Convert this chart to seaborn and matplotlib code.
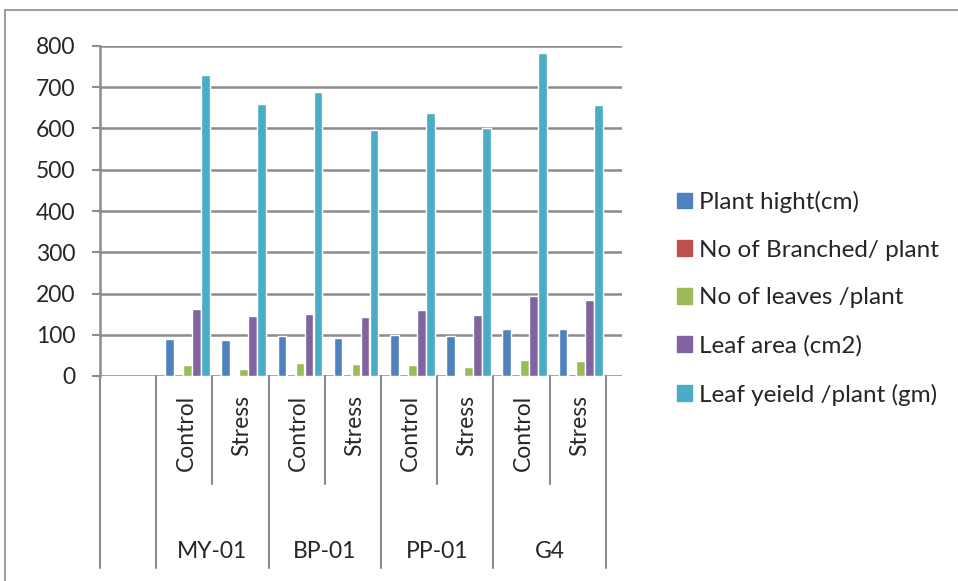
import pandas as pd
import matplotlib
matplotlib.use('Agg')
import matplotlib.pyplot as plt
import matplotlib.patches as mpatches
import matplotlib.transforms as mtransforms
import seaborn as sns

# data
varieties = ['MY-01', 'BP-01', 'PP-01', 'G4']
treatments = ['Control', 'Stress']
series = ['Plant hight(cm)', 'No of Branched/ plant', 'No of leaves /plant',
          'Leaf area (cm2)', 'Leaf yeield /plant (gm)']
plant_height = [90, 87, 96, 91, 100, 98, 115, 113]
branches = [4, 3, 5, 4, 4, 3, 6, 5]
leaves = [26, 16, 31, 29, 27, 22, 38, 36]
leaf_area = [163, 145, 151, 143, 159, 149, 195, 185]
leaf_yield = [729, 659, 689, 596, 638, 602, 783, 658]
colors = ['#4F81BD', '#C0504D', '#9BBB59', '#8064A2', '#4BACC6']
yticks = [0, 100, 200, 300, 400, 500, 600, 700, 800]

slots = [v + ' ' + t for v in varieties for t in treatments]
rows = []
for name, vals in zip(series, [plant_height, branches, leaves, leaf_area, leaf_yield]):
    for s, v in zip(slots, vals):
        rows.append({'slot': s, 'series': name, 'value': v})
df = pd.DataFrame(rows)
order = ['blank'] + slots

sns.set_style('white')
plt.rcParams['font.family'] = ['Lato', 'DejaVu Sans']
grid_c = '#8c8c8c'
fs = 16.5

fig = plt.figure(figsize=(9.58, 5.81), dpi=100)
ax = fig.add_axes([100 / 958, 1 - 376 / 581, 522 / 958, 330 / 581])

for y in yticks:
    ax.axhline(y, color=grid_c, lw=1.8, zorder=0)

sns.barplot(data=df, x='slot', y='value', hue='series', order=order,
            hue_order=series, palette=colors, width=0.8, gap=0.04,
            saturation=1, ax=ax, legend=False, zorder=3)
for p in ax.patches:
    p.set_x(p.get_x() + 0.057)

ax.set_xlim(-0.5, 8.79)
ax.set_ylim(0, 800)
ax.set_yticks(yticks)
ax.set_xticks([])
ax.set_xlabel('')
ax.set_ylabel('')
for side in ['top', 'right', 'bottom']:
    ax.spines[side].set_visible(False)
ax.spines['left'].set_color(grid_c)
ax.spines['left'].set_linewidth(1.8)
ax.tick_params(axis='y', length=5.8, width=1.5, color=grid_c, pad=12,
               labelsize=fs, left=True)

# multi-level category axis
tr = mtransforms.blended_transform_factory(ax.transData, ax.transAxes)
for i, s in enumerate(slots):
    ax.text(i + 1.03, -0.058, s.split(' ')[1], rotation=90, ha='center', va='top',
            fontsize=fs, transform=tr)
for k, v in enumerate(varieties):
    ax.text(1.5 + 2 * k, -0.533, v, ha='center', va='center', fontsize=fs,
            transform=tr)
for b in [-0.5, 0.5, 2.5, 4.5, 6.5, 8.5]:
    ax.plot([b, b], [0, -0.582], color=grid_c, lw=1.5, transform=tr, clip_on=False)
for b in [1.5, 3.5, 5.5, 7.5]:
    ax.plot([b, b], [0, -0.327], color=grid_c, lw=1.5, transform=tr, clip_on=False)

# chart border (top and left only visible)
fig.add_artist(plt.Line2D([5 / 958, 1], [1 - 10 / 581, 1 - 10 / 581],
                          color=grid_c, lw=1.2, transform=fig.transFigure))
fig.add_artist(plt.Line2D([5 / 958, 5 / 958], [0, 1 - 10 / 581],
                          color=grid_c, lw=1.2, transform=fig.transFigure))

handles = [mpatches.Patch(color=c, label=n) for c, n in zip(colors, series)]
fig.legend(handles=handles, loc='upper left',
           bbox_to_anchor=(655 / 958, 1 - 169 / 581), frameon=False,
           fontsize=17.5, handlelength=0.62, handleheight=0.62,
           handletextpad=0.28, labelspacing=1.1)

fig.savefig('out.png', dpi=100)
